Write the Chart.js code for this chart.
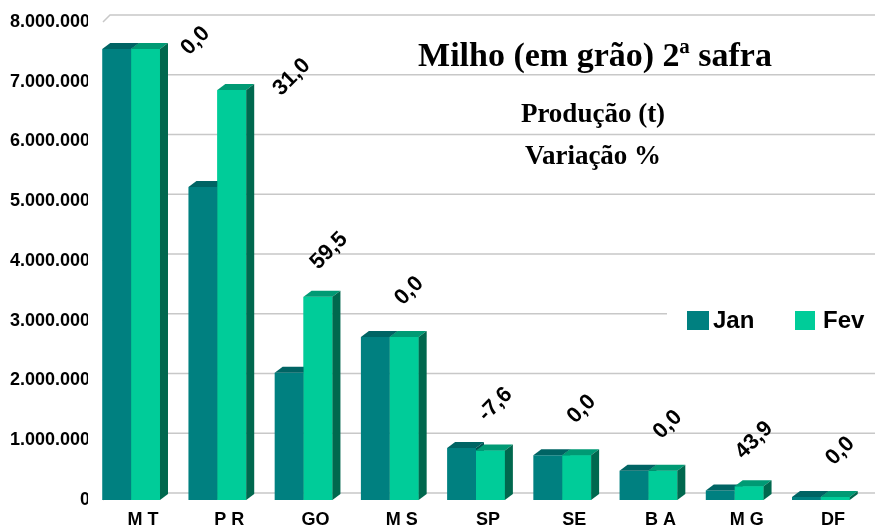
<!DOCTYPE html>
<html>
<head>
<meta charset="utf-8">
<script src="https://cdn.jsdelivr.net/npm/chart.js@4"></script>
<style>
  body { margin: 0; background: #ffffff; }
  #chart { display: block; }
</style>
</head>
<body>
<canvas id="chart" width="875" height="525"></canvas>
<script>

// DATA

const states = ["M T", "P R", "GO", "M S", "SP", "SE", "B A", "M G", "DF"];

const janValues = [7550000, 5240000, 2130000, 2730000, 870000, 750000, 490000, 160000, 50000];

const fevValues = [7550000, 6860000, 3400000, 2730000, 830000, 750000, 490000, 230000, 50000];

const variation = ["0,0", "31,0", "59,5", "0,0", "-7,6", "0,0", "0,0", "43,9", "0,0"];

const yTicks = [0, 1000000, 2000000, 3000000, 4000000, 5000000, 6000000, 7000000, 8000000];



// COLOURS

const janColors = { front: "#008080", top: "#006464", side: "#005252" };
const fevColors = { front: "#00cc99", top: "#009a74", side: "#00684e" };



function formatThousands(value) {
  return value.toString().replace(/\B(?=(\d{3})+(?!\d))/g, ".");
}



// BACK WALL GRID

const backGrid = {
  id: "backGrid",
  beforeDatasetsDraw(chart) {
    const ctx = chart.ctx;
    const y = chart.scales.y;
    const area = chart.chartArea;
    const gdx = 7;
    const gdy = 7;
    const wallX = area.left + 15;

    ctx.save();
    ctx.strokeStyle = "#c8c8c8";
    ctx.lineWidth = 1.5;

    yTicks.forEach(value => {
      const py = y.getPixelForValue(value);
      ctx.beginPath();
      ctx.moveTo(wallX, py);
      ctx.lineTo(wallX + gdx, py - gdy);
      ctx.lineTo(chart.width, py - gdy);
      ctx.stroke();
    });

    ctx.restore();
  }
};



// 3D FACES FOR EACH BAR
// Jan faces first, then Fev front is painted again so it sits in front

function drawFaces(ctx, bar, colors, withFront) {
  const dx = 8;
  const dy = 6;
  const left = bar.x - bar.width / 2;
  const right = bar.x + bar.width / 2;
  const top = bar.y;
  const base = bar.base;

  if (withFront) {
    ctx.fillStyle = colors.front;
    ctx.fillRect(left, top, right - left, base - top);
  }

  // top face
  ctx.fillStyle = colors.top;
  ctx.beginPath();
  ctx.moveTo(left, top);
  ctx.lineTo(left + dx, top - dy);
  ctx.lineTo(right + dx, top - dy);
  ctx.lineTo(right, top);
  ctx.closePath();
  ctx.fill();

  // side face
  ctx.fillStyle = colors.side;
  ctx.beginPath();
  ctx.moveTo(right, top);
  ctx.lineTo(right + dx, top - dy);
  ctx.lineTo(right + dx, base - dy);
  ctx.lineTo(right, base);
  ctx.closePath();
  ctx.fill();
}

const barFaces = {
  id: "barFaces",
  afterDatasetsDraw(chart) {
    const ctx = chart.ctx;
    const janMeta = chart.getDatasetMeta(0);
    const fevMeta = chart.getDatasetMeta(1);

    ctx.save();

    janMeta.data.forEach((bar, i) => {
      drawFaces(ctx, bar, janColors, false);
      drawFaces(ctx, fevMeta.data[i], fevColors, true);
    });

    ctx.restore();
  }
};



// VARIATION LABELS (ROTATED)

const variationLabels = {
  id: "variationLabels",
  afterDatasetsDraw(chart, args, opts) {
    const ctx = chart.ctx;
    const meta = chart.getDatasetMeta(1);

    ctx.save();
    ctx.fillStyle = "#000000";
    ctx.font = "bold 22px 'Liberation Sans', Arial, sans-serif";
    ctx.textAlign = "center";
    ctx.textBaseline = "middle";

    meta.data.forEach((bar, i) => {
      const shift = opts.shifts[i] || opts.shift;
      ctx.save();
      ctx.translate(bar.x + shift[0], bar.y + shift[1]);
      ctx.rotate(-Math.PI / 4);
      ctx.fillText(variation[i], 0, 0);
      ctx.restore();
    });

    ctx.restore();
  }
};



// TITLE AND LEGEND

const titleAndLegend = {
  id: "titleAndLegend",
  afterDraw(chart) {
    const ctx = chart.ctx;

    ctx.save();

    // titles
    ctx.fillStyle = "#000000";
    ctx.textAlign = "center";
    ctx.textBaseline = "alphabetic";

    ctx.font = "bold 34px 'Liberation Serif', 'Times New Roman', serif";
    ctx.fillText("Milho (em grão) 2ª safra", 595, 66);

    ctx.font = "bold 27px 'Liberation Serif', 'Times New Roman', serif";
    ctx.fillText("Produção (t)", 593, 122);
    ctx.fillText("Variação %", 593, 164);

    // legend
    ctx.fillStyle = "#ffffff";
    ctx.fillRect(667, 298, 208, 46);

    ctx.fillStyle = janColors.front;
    ctx.fillRect(687, 311, 22, 19);

    ctx.fillStyle = fevColors.front;
    ctx.fillRect(795, 311, 20, 19);

    ctx.fillStyle = "#000000";
    ctx.textAlign = "left";
    ctx.font = "bold 24px 'Liberation Sans', Arial, sans-serif";
    ctx.fillText("Jan", 713, 328);
    ctx.fillText("Fev", 823, 328);

    ctx.restore();
  }
};



// CHART

new Chart(document.getElementById("chart"), {

  type: "bar",

  data: {
    labels: states,
    datasets: [
      {
        label: "Jan",
        data: janValues,
        backgroundColor: janColors.front
      },
      {
        label: "Fev",
        data: fevValues,
        backgroundColor: fevColors.front
      }
    ]
  },

  options: {
    responsive: false,
    animation: false,
    barPercentage: 1,
    categoryPercentage: 0.67,

    layout: {
      padding: { top: 22, right: 11, left: 0, bottom: 0 }
    },

    plugins: {
      legend: { display: false },
      tooltip: { enabled: false },
      variationLabels: {
        shift: [5, -46],
        shifts: { 0: [50, -8], 1: [60, -13], 2: [11, -46] }
      }
    },

    scales: {
      x: {
        grid: { display: false, drawTicks: false },
        border: { display: false },
        ticks: {
          color: "#000000",
          font: { family: "'Liberation Sans', Arial, sans-serif", size: 18, weight: "bold" },
          labelOffset: 12,
          padding: 9,
          maxRotation: 0
        },
        afterFit(scale) {
          scale.height = 25;
        }
      },
      y: {
        min: 0,
        max: 8000000,
        grid: { display: false, drawTicks: false },
        border: { display: false },
        ticks: {
          stepSize: 1000000,
          color: "#000000",
          padding: -2,
          font: { family: "'Liberation Sans', Arial, sans-serif", size: 18, weight: "bold" },
          callback: value => formatThousands(value)
        },
        afterFit(scale) {
          scale.width = 88;
        }
      }
    }
  },

  plugins: [backGrid, barFaces, variationLabels, titleAndLegend]

});

</script>
</body>
</html>
